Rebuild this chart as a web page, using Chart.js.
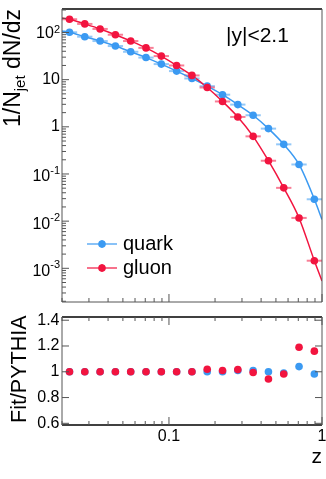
<!DOCTYPE html>
<html>
<head>
<meta charset="utf-8">
<script src="https://cdn.jsdelivr.net/npm/chart.js@4.4.1/dist/chart.umd.min.js"></script>
<style>
  html, body { margin: 0; padding: 0; background: #fff; }
  #wrap { position: relative; width: 326px; height: 479px; overflow: hidden; }
  canvas { position: absolute; left: 0; }
  #topChart { top: 0; }
  #ratioChart { top: 310px; }
</style>
</head>
<body>
<div id="wrap">
  <canvas id="topChart" width="326" height="310"></canvas>
  <canvas id="ratioChart" width="326" height="169"></canvas>
</div>
<script>
/* ===== DATA ===== */
const zCenters = [0.02239, 0.02818, 0.03548, 0.04467, 0.05623, 0.07079, 0.08913, 0.1122, 0.1413,
  0.1778, 0.2239, 0.2818, 0.3548, 0.4467, 0.5623, 0.7079, 0.8913];
const binHalfDecade = 0.05;

const quarkVals = [101, 81.5, 65.9, 51.6, 39.0, 29.4, 21.4, 15.2, 10.6, 7.28, 4.80, 2.96, 1.76, 0.916, 0.425, 0.159, 0.0291];
const gluonVals = [191, 152, 119, 89.7, 65.9, 47.2, 31.6, 20.0, 12.3, 6.82, 3.45, 1.62, 0.628, 0.191, 0.0508, 0.0117, 0.00145];

// fit curves: ends of the drawn curves + the values at the bin centres
const fitZ = [0.02, ...zCenters, 1];
const quarkFit = [108, ...quarkVals, 0.0108];
const gluonFit = [203, ...gluonVals, 0.00054];

const quarkRatio = [1, 1, 1, 1, 1, 1, 1, 1, 1, 1.0, 1.0, 1.01, 1.01, 1.0, 0.99, 1.04, 0.983];
const gluonRatio = [1, 1, 1, 1, 1, 1, 1, 1, 1, 1.02, 1.01, 1.017, 0.994, 0.944, 0.983, 1.19, 1.16];

const seriesNames = ["quark", "gluon"];
const yDecades = [-3, -2, -1, 0, 1, 2];
const ratioTicks = [0.6, 0.8, 1, 1.2, 1.4];
const zTickLabels = [[0.1, "0.1"], [1, "1"]];

const BLUE = "#3b9af2";
const RED = "#f2143f";
const FONT = "'Liberation Sans', Arial, Helvetica, sans-serif";

const pts = (xs, ys) => xs.map((x, i) => ({ x, y: ys[i] }));

// minor tick values for log axes
function logTicks(min, max) {
  const out = [];
  for (let e = -5; e <= 3; e++) {
    for (let k = 1; k <= 9; k++) {
      const v = k * Math.pow(10, e);
      if (v >= min * 0.9999 && v <= max * 1.0001) out.push({ v, major: k === 1 });
    }
  }
  return out;
}

function line(ctx, x0, y0, x1, y1) {
  ctx.beginPath(); ctx.moveTo(x0, y0); ctx.lineTo(x1, y1); ctx.stroke();
}

/* ===== error bars (horizontal bin width) ===== */
const errorBars = {
  id: "errorBars",
  beforeDatasetsDraw(chart) {
    const { ctx, scales: { x, y } } = chart;
    ctx.save();
    ctx.lineWidth = 2;
    ctx.globalAlpha = 0.55;
    [[quarkVals, BLUE], [gluonVals, RED]].forEach(([vals, col]) => {
      ctx.strokeStyle = col;
      vals.forEach((v, i) => {
        const py = y.getPixelForValue(v);
        const x0 = x.getPixelForValue(zCenters[i] * Math.pow(10, -binHalfDecade));
        const x1 = x.getPixelForValue(zCenters[i] * Math.pow(10, binHalfDecade));
        line(ctx, x0, py, x1, py);
        line(ctx, x.getPixelForValue(zCenters[i]), py - 3, x.getPixelForValue(zCenters[i]), py + 3);
      });
    });
    ctx.restore();
  }
};

/* ===== frame, ticks, labels of the top panel ===== */
const topDecor = {
  id: "topDecor",
  afterDraw(chart) {
    const { ctx, chartArea: a, scales: { x, y } } = chart;
    ctx.save();
    // frame
    ctx.strokeStyle = "#000";
    ctx.lineWidth = 1.3;
    line(ctx, a.left, a.top, a.right, a.top);
    ctx.lineWidth = 1;
    ctx.strokeStyle = "#555";
    line(ctx, a.left, a.top, a.left, a.bottom);
    line(ctx, a.right, a.top, a.right, a.bottom);
    line(ctx, a.left, a.bottom, a.right, a.bottom);

    // y ticks
    logTicks(y.min, y.max).forEach(t => {
      const py = y.getPixelForValue(t.v);
      line(ctx, a.left, py, a.left + (t.major ? 7 : 4), py);
    });
    // x ticks
    logTicks(x.min, x.max).forEach(t => {
      const px = x.getPixelForValue(t.v);
      line(ctx, px, a.bottom, px, a.bottom - (t.major ? 8 : 4));
    });

    // y labels with exponents
    ctx.fillStyle = "#000";
    ctx.textAlign = "right";
    ctx.textBaseline = "middle";
    yDecades.forEach(e => {
      const py = y.getPixelForValue(Math.pow(10, e));
      const rx = a.left - 2;
      if (e === 0 || e === 1) {
        ctx.font = "16px " + FONT;
        ctx.fillText(e === 0 ? "1" : "10", rx, py);
      } else {
        ctx.font = "11px " + FONT;
        const sup = String(e).replace("-", "-");
        const w = ctx.measureText(sup).width;
        ctx.fillText(sup, rx, py - 3);
        ctx.font = "16px " + FONT;
        ctx.fillText("10", rx - w, py + (e < 0 ? 3 : 1));
      }
    });

    // y title, rotated
    ctx.save();
    ctx.translate(20, 127);
    ctx.rotate(-Math.PI / 2);
    ctx.textAlign = "left";
    ctx.textBaseline = "alphabetic";
    ctx.font = "23px " + FONT;
    let cx = 0;
    ctx.fillText("1/N", cx, 0); cx += ctx.measureText("1/N").width;
    ctx.font = "15px " + FONT;
    ctx.fillText("jet", cx, 5); cx += ctx.measureText("jet").width;
    ctx.font = "23px " + FONT;
    ctx.fillText(" dN/dz", cx, 0);
    ctx.restore();

    // rapidity cut
    ctx.font = "21px " + FONT;
    ctx.textAlign = "left";
    ctx.textBaseline = "alphabetic";
    ctx.fillText("|y|<2.1", 226, 42);

    // legend
    [[BLUE, 244], [RED, 268]].forEach(([col, ly], i) => {
      ctx.strokeStyle = col;
      ctx.globalAlpha = 0.6;
      ctx.lineWidth = 2;
      line(ctx, 87, ly, 117, ly);
      line(ctx, 102, ly - 4, 102, ly + 4);
      ctx.globalAlpha = 1;
      ctx.fillStyle = col;
      ctx.beginPath(); ctx.arc(102, ly, 3.8, 0, Math.PI * 2); ctx.fill();
      ctx.fillStyle = "#000";
      ctx.font = "20px " + FONT;
      ctx.fillText(seriesNames[i], 123, ly + 6);
    });
    ctx.restore();
  }
};

/* ===== frame, ticks, labels of the ratio panel ===== */
const ratioDecor = {
  id: "ratioDecor",
  afterDraw(chart) {
    const { ctx, chartArea: a, scales: { x, y } } = chart;
    ctx.save();
    ctx.strokeStyle = "#000";
    ctx.lineWidth = 1.3;
    line(ctx, a.left, a.top, a.right, a.top);
    line(ctx, a.left, a.bottom, a.right, a.bottom);
    ctx.lineWidth = 1;
    ctx.strokeStyle = "#555";
    line(ctx, a.left, a.top, a.left, a.bottom);
    line(ctx, a.right, a.top, a.right, a.bottom);

    ratioTicks.forEach(v => {
      const py = y.getPixelForValue(v);
      line(ctx, a.left, py, a.left + 7, py);
      line(ctx, a.right, py, a.right - 7, py);
    });
    logTicks(x.min, x.max).forEach(t => {
      const px = x.getPixelForValue(t.v);
      const len = t.major ? 8 : 4;
      line(ctx, px, a.bottom, px, a.bottom - len);
      line(ctx, px, a.top, px, a.top + len);
    });

    ctx.fillStyle = "#000";
    ctx.font = "16px " + FONT;
    ctx.textAlign = "right";
    ctx.textBaseline = "middle";
    ratioTicks.forEach(v => ctx.fillText(String(v), a.left - 2.5, y.getPixelForValue(v)));

    ctx.textAlign = "center";
    ctx.textBaseline = "top";
    zTickLabels.forEach(([v, s]) => ctx.fillText(s, x.getPixelForValue(v), a.bottom + 4));

    ctx.font = "21px " + FONT;
    ctx.textAlign = "right";
    ctx.textBaseline = "alphabetic";
    ctx.fillText("z", a.right, 153);

    ctx.save();
    ctx.translate(26, a.bottom - 2);
    ctx.rotate(-Math.PI / 2);
    ctx.textAlign = "left";
    ctx.font = "21.5px " + FONT;
    ctx.fillText("Fit/PYTHIA", 0, 0);
    ctx.restore();
    ctx.restore();
  }
};

const hiddenLog = (min, max) => ({ type: "logarithmic", min, max, display: false });

/* ===== top panel ===== */
new Chart(document.getElementById("topChart"), {
  type: "scatter",
  data: {
    datasets: [
      { label: "gluon", data: pts(zCenters, gluonVals), backgroundColor: RED, borderWidth: 0, pointRadius: 3.8, order: 0 },
      { label: "quark", data: pts(zCenters, quarkVals), backgroundColor: BLUE, borderWidth: 0, pointRadius: 3.8, order: 1 },
      { label: "gluon fit", data: pts(fitZ, gluonFit), showLine: true, borderColor: RED, borderWidth: 1.5,
        pointRadius: 0, cubicInterpolationMode: "monotone", order: 2 },
      { label: "quark fit", data: pts(fitZ, quarkFit), showLine: true, borderColor: BLUE, borderWidth: 1.5,
        pointRadius: 0, cubicInterpolationMode: "monotone", order: 3 }
    ]
  },
  options: {
    responsive: false,
    animation: false,
    layout: { padding: { left: 62, top: 9, right: 4, bottom: 8 } },
    scales: { x: hiddenLog(0.02, 1), y: hiddenLog(1.93e-4, 315) },
    plugins: { legend: { display: false }, tooltip: { enabled: false } }
  },
  plugins: [errorBars, topDecor]
});

/* ===== ratio panel ===== */
new Chart(document.getElementById("ratioChart"), {
  type: "scatter",
  data: {
    datasets: [
      { label: "gluon", data: pts(zCenters, gluonRatio), backgroundColor: RED, borderWidth: 0, pointRadius: 3.8, order: 0 },
      { label: "quark", data: pts(zCenters, quarkRatio), backgroundColor: BLUE, borderWidth: 0, pointRadius: 3.8, order: 1 }
    ]
  },
  options: {
    responsive: false,
    animation: false,
    layout: { padding: { left: 62, top: 7, right: 4, bottom: 54 } },
    scales: {
      x: hiddenLog(0.02, 1),
      y: { type: "linear", min: 0.587, max: 1.425, display: false }
    },
    plugins: { legend: { display: false }, tooltip: { enabled: false } }
  },
  plugins: [ratioDecor]
});
</script>
</body>
</html>
